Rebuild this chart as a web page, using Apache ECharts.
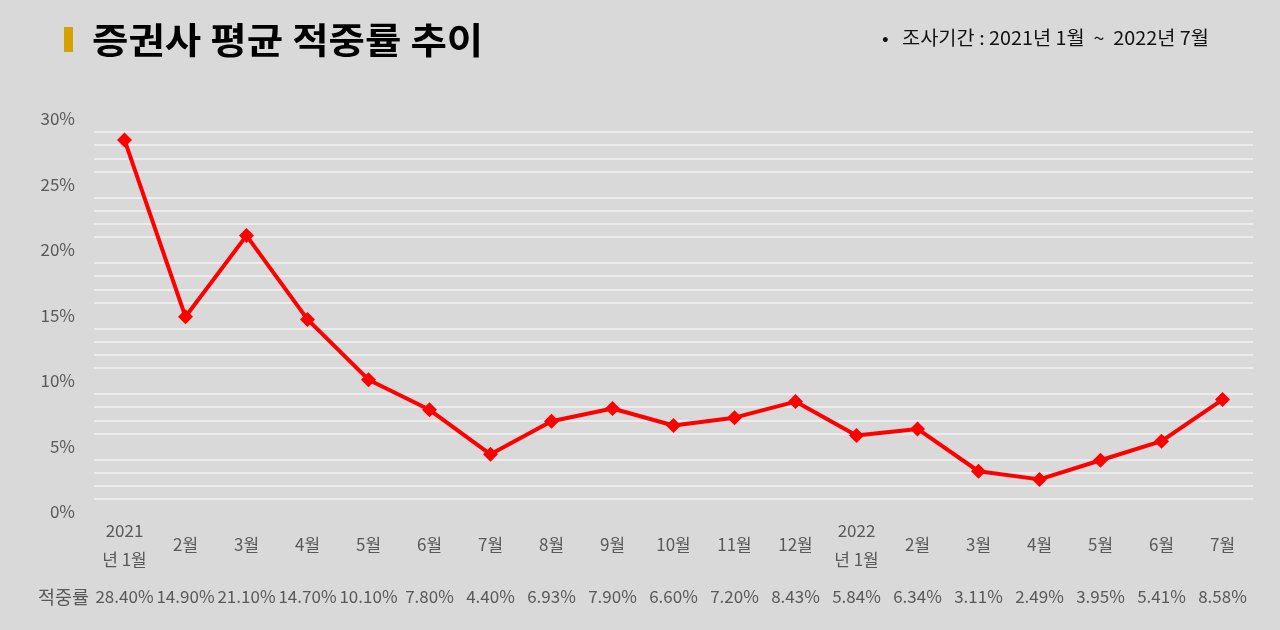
<!DOCTYPE html>
<html><head><meta charset="utf-8">
<script src="https://cdn.jsdelivr.net/npm/echarts@6/dist/echarts.min.js"></script>
<style>html,body{margin:0;padding:0;background:#d9d9d9;}#c{width:1280px;height:630px;}</style>
</head><body><div id="c"></div>
<script>
const categories = ['2021\n년 1월','2월','3월','4월','5월','6월','7월','8월','9월','10월','11월','12월','2022\n년 1월','2월','3월','4월','5월','6월','7월'];
const hitRate = [28.40,14.90,21.10,14.70,10.10,7.80,4.40,6.93,7.90,6.60,7.20,8.43,5.84,6.34,3.11,2.49,3.95,5.41,8.58];
const tableLabels = ['28.40%','14.90%','21.10%','14.70%','10.10%','7.80%','4.40%','6.93%','7.90%','6.60%','7.20%','8.43%','5.84%','6.34%','3.11%','2.49%','3.95%','5.41%','8.58%'];
const titleText = '증권사 평균 적중률 추이';
const periodText = '•   조사기간 : 2021년 1월  ~  2022년 7월';
const rowName = '적중률';

const FONT = '"Noto Sans CJK KR","Noto Sans",sans-serif';
const chart = echarts.init(document.getElementById('c'));
chart.setOption({
  backgroundColor: '#d9d9d9',
  animation: false,
  textStyle: {fontFamily: FONT},
  grid: {left: 94, right: 27, top: 119, bottom: 118},
  graphic: [
    {type: 'rect', left: 64, top: 27, shape: {width: 9, height: 25}, style: {fill: '#d4a200'}},
    {type: 'text', x: 92, y: 40, scaleX: 1.1, style: {text: titleText, font: 'bold 36px ' + FONT, fill: '#000', verticalAlign: 'middle', align: 'left'}},
    {type: 'text', x: 882, y: 38, scaleX: 1.04, style: {text: periodText, font: '19px ' + FONT, fill: '#111', verticalAlign: 'middle', align: 'left'}},
    {type: 'text', x: 38, y: 597, style: {text: rowName, font: '18.5px ' + FONT, fill: '#595959', verticalAlign: 'middle', align: 'left'}}
  ],
  xAxis: [{
    type: 'category', data: categories, boundaryGap: true,
    axisLine: {show: false}, axisTick: {show: false},
    axisLabel: {color: '#595959', fontSize: 17, lineHeight: 29, verticalAlign: 'middle', margin: 33, interval: 0, fontFamily: FONT}
  }, {
    type: 'category', data: tableLabels, boundaryGap: true, position: 'bottom', offset: 85,
    axisLine: {show: false}, axisTick: {show: false},
    axisLabel: {color: '#595959', fontSize: 17, verticalAlign: 'middle', margin: 0, interval: 0, fontFamily: FONT}
  }],
  yAxis: {
    type: 'value', min: 0, max: 30, interval: 1,
    axisLine: {show: false}, axisTick: {show: false},
    axisLabel: {color: '#595959', fontSize: 17, margin: 19, fontFamily: FONT,
      formatter: v => (v % 5 === 0 ? v + '%' : '')},
    splitLine: {show: true, lineStyle: {width: 1.5, color: ['rgba(0,0,0,0)','#f2f2f2','#f2f2f2','#f2f2f2','#f2f2f2']}}
  },
  series: [{
    type: 'line', data: hitRate, xAxisIndex: 0,
    symbol: 'diamond', symbolSize: 15,
    lineStyle: {color: '#ff0000', width: 4},
    itemStyle: {color: '#ff0000'}
  }]
});
</script></body></html>
